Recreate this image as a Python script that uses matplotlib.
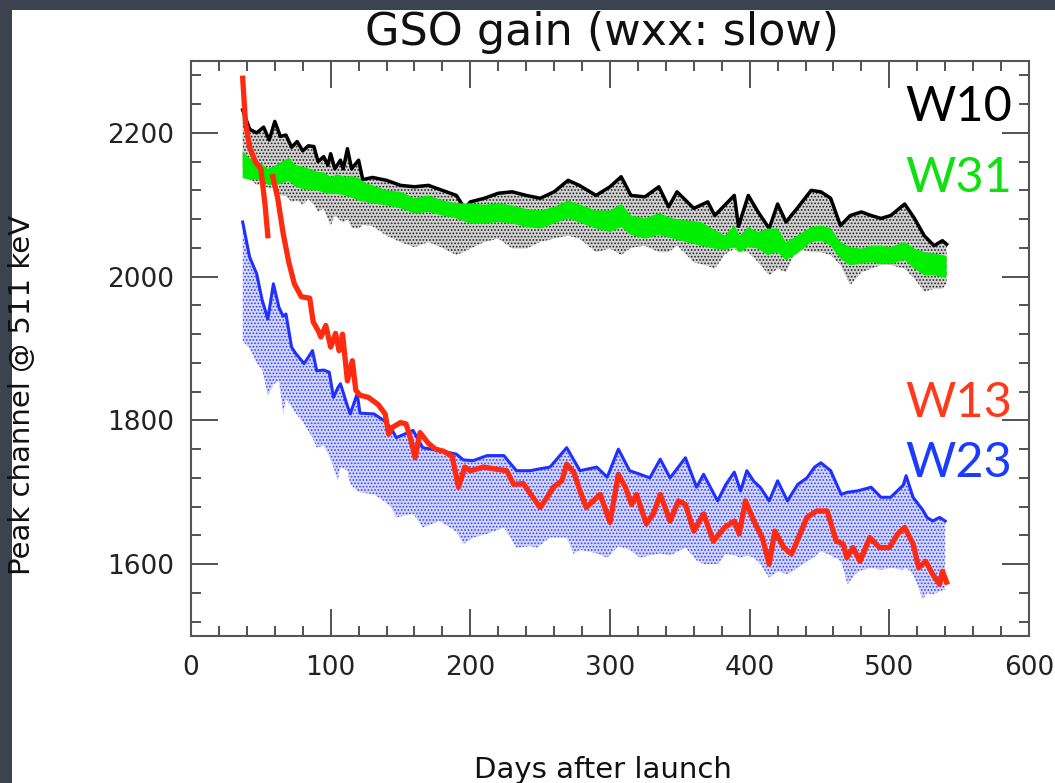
import numpy as np
import matplotlib
matplotlib.use("Agg")
import matplotlib.pyplot as plt
from matplotlib.patches import Rectangle
from matplotlib.ticker import MultipleLocator

# W10 (black) band: day, upper edge, lower edge
w10_days = [37, 42, 47, 52, 56, 60, 64, 68, 72, 76, 80, 84, 88, 91, 95, 98, 100, 103, 107, 109,
            112, 115, 120, 123, 130, 140, 150, 160, 170, 180, 190, 196, 200, 210, 220, 230, 240,
            250, 260, 270, 278, 290, 300, 308, 315, 325, 335, 342, 348, 360, 370, 375, 382, 389,
            392, 399, 406, 414, 420, 426, 434, 444, 451, 458, 465, 472, 480, 487, 494, 501, 511,
            518, 525, 532, 538, 541]
w10_hi = [2232, 2205, 2200, 2208, 2190, 2216, 2195, 2197, 2180, 2188, 2175, 2182, 2181, 2160, 2167,
          2155, 2171, 2150, 2162, 2150, 2178, 2150, 2162, 2135, 2138, 2134, 2127, 2125, 2127, 2120,
          2113, 2095, 2104, 2109, 2116, 2118, 2113, 2109, 2118, 2134, 2127, 2113, 2125, 2139, 2113,
          2111, 2125, 2097, 2118, 2095, 2104, 2085, 2099, 2113, 2070, 2113, 2090, 2067, 2101, 2076,
          2095, 2120, 2118, 2109, 2071, 2085, 2090, 2085, 2081, 2085, 2101, 2081, 2057, 2043, 2050,
          2045]
w10_lo = [2150, 2135, 2128, 2127, 2122, 2125, 2113, 2112, 2104, 2106, 2100, 2108, 2100, 2090, 2095,
          2080, 2071, 2085, 2078, 2075, 2080, 2068, 2067, 2072, 2070, 2057, 2048, 2041, 2048, 2040,
          2030, 2035, 2039, 2048, 2053, 2039, 2039, 2048, 2053, 2057, 2053, 2034, 2039, 2030, 2040,
          2043, 2034, 2034, 2043, 2020, 2015, 2011, 2030, 2039, 2034, 2034, 2020, 2002, 2011, 2006,
          2039, 2034, 2034, 2030, 2016, 1988, 2006, 2011, 2016, 2016, 2011, 1997, 1979, 1983, 1983,
          1990]

# W31 (green) band
w31_days = [37, 42, 47, 50, 55, 60, 65, 70, 75, 80, 85, 90, 95, 100, 105, 110, 115, 120, 125, 130,
            140, 150, 160, 170, 180, 190, 200, 210, 220, 230, 240, 250, 260, 270, 280, 290, 300,
            308, 315, 325, 335, 345, 355, 365, 375, 382, 389, 393, 399, 406, 413, 420, 426, 434,
            444, 451, 458, 465, 472, 480, 487, 494, 501, 511, 518, 525, 532, 538, 541]
w31_hi = [2174, 2165, 2160, 2158, 2150, 2154, 2160, 2165, 2155, 2153, 2150, 2146, 2145, 2139, 2142,
          2139, 2140, 2137, 2130, 2127, 2120, 2118, 2109, 2113, 2106, 2102, 2102, 2100, 2102, 2099,
          2094, 2092, 2097, 2106, 2099, 2092, 2092, 2101, 2085, 2081, 2088, 2081, 2078, 2076, 2065,
          2057, 2071, 2057, 2069, 2062, 2067, 2067, 2048, 2057, 2069, 2071, 2067, 2048, 2041, 2039,
          2043, 2043, 2041, 2048, 2039, 2034, 2032, 2030, 2028]
w31_lo = [2137, 2135, 2135, 2133, 2128, 2127, 2130, 2133, 2125, 2122, 2120, 2120, 2117, 2115, 2115,
          2113, 2110, 2106, 2104, 2102, 2099, 2095, 2088, 2090, 2085, 2081, 2074, 2074, 2076, 2074,
          2069, 2067, 2074, 2081, 2074, 2067, 2062, 2069, 2058, 2053, 2058, 2053, 2048, 2043, 2039,
          2037, 2041, 2034, 2041, 2039, 2030, 2034, 2023, 2032, 2048, 2050, 2043, 2025, 2016, 2018,
          2020, 2018, 2018, 2023, 2011, 2002, 2002, 1999, 2000]

# W13 (red) track, nan = gap in the data
w13_days = [37, 39, 42, 46, 50, 53, 55, 57, 58.5, 62, 66, 70, 74, 79, 85, 87.5, 91, 93, 96.5, 100,
            103.5, 106, 108.5, 112, 115.5, 118, 121, 127, 134, 139, 141.5, 144, 150, 154, 157,
            160.5, 164, 170, 175, 181, 187, 191.5, 196, 200, 209.5, 219, 226, 231, 238, 244, 250,
            255, 259.5, 265.5, 269, 274, 278.5, 283, 288, 293, 300, 306, 311, 315.5, 319, 326, 331,
            336, 343, 349, 354, 360, 367, 374, 382, 389, 392.5, 397, 403, 409, 414, 418, 424.5,
            430, 435, 441, 448, 455.5, 459, 462, 467, 469.5, 474, 479, 486, 493, 500, 506, 511,
            517, 521, 526, 531, 536, 538, 541]
w13_val = [2276, 2215, 2180, 2160, 2150, 2100, 2057, np.nan, 2139, 2110, 2060, 2020, 1990, 1972,
           1970, 1937, 1925, 1916, 1932, 1902, 1921, 1897, 1920, 1855, 1883, 1842, 1835, 1832, 1822,
           1809, 1781, 1790, 1797, 1795, 1776, 1748, 1783, 1768, 1760, 1757, 1750, 1707, 1735, 1730,
           1735, 1732, 1730, 1711, 1712, 1695, 1679, 1693, 1707, 1716, 1739, 1728, 1702, 1679, 1688,
           1697, 1658, 1725, 1707, 1683, 1697, 1656, 1670, 1697, 1660, 1688, 1683, 1646, 1670, 1632,
           1651, 1660, 1642, 1688, 1660, 1637, 1600, 1646, 1623, 1614, 1637, 1665, 1674, 1674, 1651,
           1632, 1628, 1609, 1623, 1604, 1637, 1623, 1623, 1642, 1651, 1628, 1595, 1604, 1586, 1572,
           1590, 1575]

# W23 (blue) band
w23_days = [37, 42, 47, 51, 55, 59, 63, 66, 68, 72, 75, 81, 87, 90, 95, 99, 102, 105, 107, 112,
            114, 119, 121, 131, 138, 143, 147, 159, 166, 178, 190, 195, 202, 212, 224, 233, 243,
            248, 257, 269, 274, 278.5, 290.5, 298, 306, 314, 321.5, 328.5, 336, 343, 354, 362, 367,
            377, 383, 389, 393.5, 398, 403, 407.5, 414, 420, 427, 434.5, 441, 446.5, 451, 458,
            465.5, 470, 477.5, 487, 494, 501, 510, 512, 517, 524, 527, 531, 536, 540]
w23_hi = [2076, 2027, 2004, 1967, 1941, 1990, 1957, 1945, 1948, 1902, 1893, 1879, 1897, 1869, 1870,
          1867, 1832, 1845, 1851, 1820, 1809, 1837, 1810, 1809, 1800, 1790, 1776, 1786, 1762, 1758,
          1753, 1745, 1744, 1751, 1751, 1730, 1730, 1732, 1735, 1762, 1745, 1730, 1735, 1721, 1760,
          1730, 1725, 1720, 1746, 1720, 1748, 1707, 1725, 1688, 1711, 1728, 1702, 1730, 1715, 1707,
          1688, 1716, 1688, 1711, 1720, 1735, 1741, 1730, 1697, 1700, 1702, 1707, 1693, 1693, 1710,
          1723, 1693, 1675, 1665, 1660, 1665, 1660]
w23_lo = [1910, 1900, 1880, 1870, 1834, 1850, 1855, 1809, 1830, 1818, 1810, 1795, 1776, 1762, 1765,
          1750, 1735, 1716, 1735, 1730, 1711, 1702, 1700, 1697, 1688, 1680, 1665, 1670, 1651, 1660,
          1645, 1628, 1637, 1642, 1651, 1623, 1625, 1623, 1637, 1637, 1614, 1620, 1615, 1609, 1625,
          1620, 1609, 1612, 1615, 1612, 1623, 1605, 1600, 1600, 1614, 1612, 1609, 1612, 1609, 1600,
          1581, 1590, 1586, 1595, 1604, 1610, 1618, 1612, 1604, 1572, 1590, 1595, 1592, 1595, 1592,
          1595, 1586, 1551, 1560, 1558, 1562, 1565]

labels = ["W10", "W31", "W13", "W23"]
label_colors = ["#000000", "#10e010", "#ff3a1a", "#1a3cff"]

plt.rcParams["hatch.linewidth"] = 0.8

fig = plt.figure(figsize=(10.55, 7.83), dpi=100)
fig.patch.set_facecolor("#3c424e")
fig.patches.append(Rectangle((12 / 1055, 0), 1043 / 1055, 773 / 783,
                             transform=fig.transFigure, facecolor="white", edgecolor="none",
                             zorder=-5))

ax = fig.add_axes([191 / 1055, 1 - 636 / 783, 838 / 1055, 575 / 783])
ax.set_zorder(3)
ax.set_facecolor("none")

# black band with green band on top
ax.fill_between(w10_days, w10_lo, w10_hi, facecolor="#d2d2d2", edgecolor="#202020",
                hatch=".....", linewidth=0, zorder=2)
ax.plot(w10_days, w10_hi, color="black", lw=2.5, zorder=3)
ax.fill_between(w31_days, w31_lo, w31_hi, facecolor="#00ee00", edgecolor="none", zorder=4)

# blue band with red track on top
ax.fill_between(w23_days, w23_lo, w23_hi, facecolor="#d4d8ff", edgecolor="#3040ff",
                hatch=".....", linewidth=0, zorder=2)
ax.plot(w23_days, w23_hi, color="#2030ff", lw=2.2, zorder=3)
ax.plot(w13_days, w13_val, color="#ff2a10", lw=3.8, zorder=5)

ax.set_xlim(0, 600)
ax.set_ylim(1500, 2300)
ax.xaxis.set_major_locator(MultipleLocator(100))
ax.xaxis.set_minor_locator(MultipleLocator(20))
ax.yaxis.set_major_locator(MultipleLocator(200))
ax.yaxis.set_minor_locator(MultipleLocator(40))
ax.tick_params(which="both", direction="in", top=True, right=True, color="#444444",
               labelsize=19, labelcolor="#222222")
ax.tick_params(which="major", length=19.5, width=1.3)
ax.tick_params(which="minor", length=7.2, width=1.3)
ax.tick_params(axis="x", pad=14)
ax.tick_params(axis="y", pad=12)
for sp in ax.spines.values():
    sp.set_color("#555555")
    sp.set_linewidth(1.5)

fig.text(602 / 1055, 1 - 32 / 783, "GSO gain (wxx: slow)", fontsize=32,
         ha="center", va="center", color="#111111")
fig.text(22 / 1055, 1 - 395 / 783, "Peak channel @ 511 keV", fontsize=21,
         rotation=90, ha="center", va="center", color="#111111")
fig.text(603 / 1055, 1 - 770 / 783, "Days after launch", fontsize=21,
         ha="center", va="center", color="#111111")

label_y = [121, 192, 417, 477]
for txt, col, yp in zip(labels, label_colors, label_y):
    fig.text(1012 / 1055, 1 - yp / 783, txt, fontsize=35, family="Lato",
             color=col, ha="right", va="baseline", zorder=10)

fig.savefig("out.png", dpi=100, facecolor=fig.get_facecolor())
